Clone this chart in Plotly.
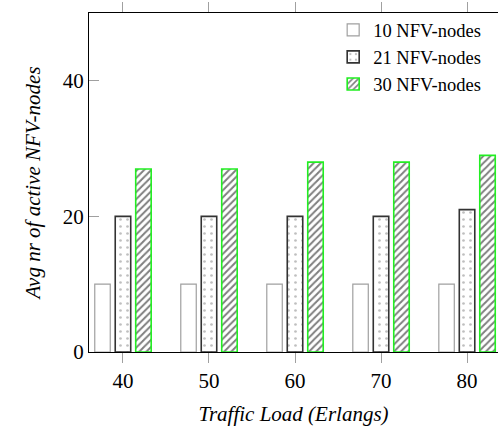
import plotly.graph_objects as go

loads = [40, 50, 60, 70, 80]
nfv10 = [10, 10, 10, 10, 10]
nfv21 = [20, 20, 20, 20, 21]
nfv30 = [27, 27, 28, 28, 29]
names = ["10 NFV-nodes", "21 NFV-nodes", "30 NFV-nodes"]
y_ticks = [0, 20, 40]

FONT = "Liberation Serif, Times New Roman, serif"
W = 1.8
D = 2.38

fig = go.Figure()
fig.add_trace(go.Bar(
    x=loads, y=nfv10, name=names[0], width=W, offset=-D - W / 2,
    marker=dict(color="white", line=dict(color="#a0a0a0", width=1.2)),
))
fig.add_trace(go.Bar(
    x=loads, y=nfv21, name=names[1], width=W, offset=-W / 2,
    marker=dict(color="white", line=dict(color="#333333", width=1.6),
                pattern=dict(shape=".", fgcolor="#808080", bgcolor="white",
                             size=7, solidity=0.12)),
))
fig.add_trace(go.Bar(
    x=loads, y=nfv30, name=names[2], width=W, offset=D - W / 2,
    marker=dict(color="white", line=dict(color="#22ee22", width=1.6),
                pattern=dict(shape="/", fgcolor="black", bgcolor="white",
                             size=5, solidity=0.4)),
))

fig.update_layout(
    width=498, height=437,
    margin=dict(l=89, r=0, t=13, b=85),
    paper_bgcolor="white", plot_bgcolor="white",
    font=dict(family=FONT, color="black", size=21),
    showlegend=True,
    legend=dict(x=0.597, y=1.005, xanchor="left", yanchor="top",
                bgcolor="rgba(0,0,0,0)", font=dict(size=18.5, family=FONT),
                tracegroupgap=0, itemwidth=30),
    xaxis=dict(
        range=[36.05, 83.6], tickvals=loads, ticktext=[str(v) for v in loads],
        showgrid=False, zeroline=False, automargin=False,
        showline=True, linecolor="black", linewidth=1.2, mirror="ticks",
        ticks="outside", ticklen=10, tickcolor="#a0a0a0", tickwidth=1,
        tickfont=dict(size=21, family=FONT),
        title=dict(text="<i>Traffic Load (Erlangs)</i>", font=dict(size=21, family=FONT), standoff=14),
    ),
    yaxis=dict(
        range=[0, 50], tickvals=y_ticks,
        showgrid=False, zeroline=False, automargin=False,
        showline=True, linecolor="black", linewidth=1.2,
        ticks="inside", ticklen=10, tickcolor="#a0a0a0", tickwidth=1,
        tickfont=dict(size=21, family=FONT),
        title=dict(text="<i>Avg nr of active NFV-nodes</i>", font=dict(size=21, family=FONT), standoff=16),
    ),
)

fig.write_html(
    "out.html",
    config={"displayModeBar": False},
    post_script="document.body.style.margin='0';document.body.style.overflow='hidden';",
)
